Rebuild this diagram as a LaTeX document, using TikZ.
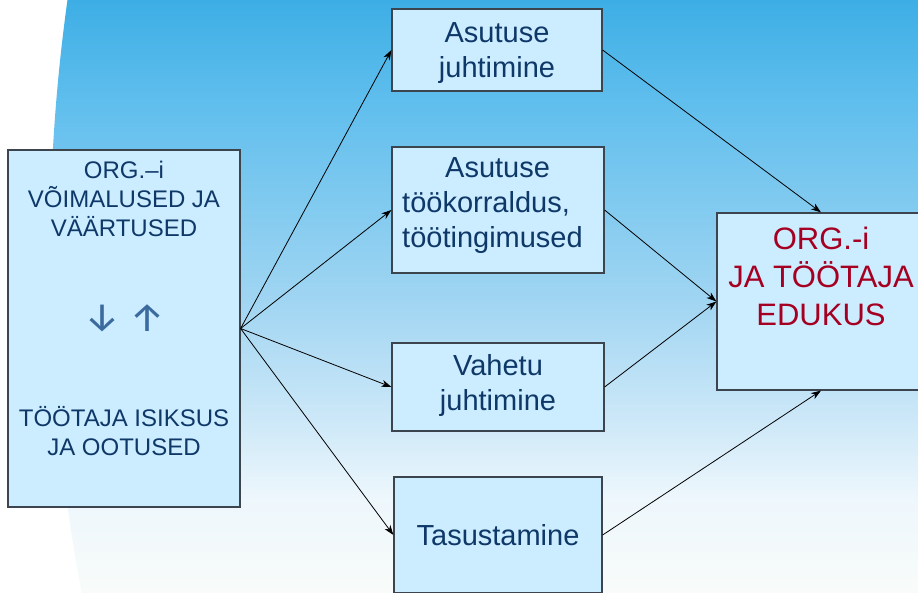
\documentclass[tikz,border=0pt]{standalone}
\usepackage{fontspec}
\setmainfont{Liberation Sans}
\newfontfamily\arrowfont{Fira Sans}
\usetikzlibrary{arrows.meta, positioning}
\definecolor{boxfill}{RGB}{204,236,255}
\definecolor{boxline}{RGB}{60,68,78}
\definecolor{navy}{RGB}{14,56,104}
\definecolor{edured}{RGB}{165,0,33}
\definecolor{swapblue}{RGB}{58,106,158}
\definecolor{bgA}{RGB}{61,174,229}
\definecolor{bgB}{RGB}{95,190,237}
\definecolor{bgC}{RGB}{160,213,242}
\definecolor{bgD}{RGB}{205,232,248}
\definecolor{bgE}{RGB}{238,247,252}
\definecolor{bgF}{RGB}{248,251,249}
\pgfdeclareverticalshading{skyfade}{100bp}{color(0bp)=(bgF); color(25bp)=(bgF); color(32.8bp)=(bgE); color(39.5bp)=(bgD); color(49.7bp)=(bgC); color(66.5bp)=(bgB); color(75bp)=(bgA); color(100bp)=(bgA)}
\tikzset{
    factor/.style={draw=boxline, line width=1.2pt, fill=boxfill, inner sep=0pt},
    factortext/.style={text=navy, align=center, inner sep=0pt, font=\fontsize{29}{35}\selectfont},
    swaparrow/.style={text=swapblue, font=\arrowfont\fontsize{40}{40}\selectfont, inner sep=0pt},
    link/.style={-{Stealth[length=10pt, width=7pt, inset=3pt]}, line width=0.8pt}
}

\begin{document}
\begin{tikzpicture}[x=1pt, y=-1pt]
    \clip (0,0) rectangle (918,592);
    \fill[white] (0,0) rectangle (918,592);
    \begin{scope}
    \clip (1868,253) circle (1818pt);
    \shade[shading=skyfade] (0,0) rectangle (918,592);
    \end{scope}
    % boxes
    \node[factor, minimum width=232pt, minimum height=357pt] (person) at (124,328.5) {};
    \node[factor, minimum width=210pt, minimum height=82pt] (mgmt) at (497,50) {};
    \node[factor, minimum width=212pt, minimum height=126pt] (order) at (498,210) {};
    \node[factor, minimum width=212pt, minimum height=88pt] (direct) at (498,387) {};
    \node[factor, minimum width=208pt, minimum height=116pt] (pay) at (498,535) {};
    \node[factor, minimum width=208pt, minimum height=177pt] (success) at (821,301.5) {};
    % texts
    \node[factortext, font=\fontsize{24}{29}\selectfont, anchor=north] (persontop) at (124,160.5) {ORG.–i\\VÕIMALUSED JA\\VÄÄRTUSED};
    \node[swaparrow] (down) at (102,318) {↓};
    \node[swaparrow] (up) at (147,318) {↑};
    \node[factortext, font=\fontsize{24}{29}\selectfont, anchor=south] (personbot) at (124,455.5) {TÖÖTAJA ISIKSUS\\JA OOTUSED};
    \node[factortext, anchor=north] (mgmttext) at (497,22) {Asutuse\\juhtimine};
    \node[factortext, align=left, anchor=north west] (ordertext) at (402,157) {\hspace*{43pt}Asutuse\\töökorraldus,\\töötingimused};
    \node[factortext, anchor=north] (directtext) at (498,354) {Vahetu\\juhtimine};
    \node[factortext] (paytext) at (pay) {Tasustamine};
    \node[factortext, text=edured, font=\fontsize{31}{38}\selectfont, anchor=north] (successtext) at (821,227) {ORG.-i\\JA TÖÖTAJA\\EDUKUS};
    % connectors
    \draw[link] (person.east) -- (mgmt.west);
    \draw[link] (person.east) -- (order.west);
    \draw[link] (person.east) -- (direct.west);
    \draw[link] (person.east) -- (pay.west);
    \draw[link] (mgmt.east) -- (success.north);
    \draw[link] (order.east) -- (success.west);
    \draw[link] (direct.east) -- (success.west);
    \draw[link] (pay.east) -- (success.south);
\end{tikzpicture}
\end{document}
